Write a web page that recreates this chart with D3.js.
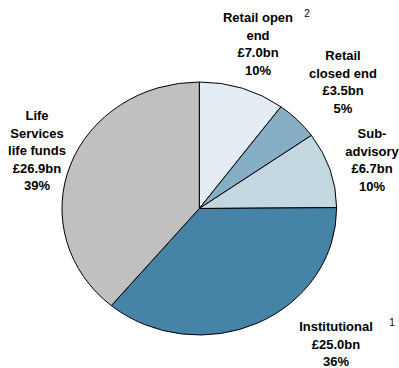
<!DOCTYPE html>
<html>
<head>
<meta charset="utf-8">
<script src="https://cdn.jsdelivr.net/npm/d3@7"></script>
<style>
  body { margin: 0; background: #fff; }
  text { font-family: "Liberation Sans", Arial, sans-serif; }
</style>
</head>
<body>
<div id="chart"></div>
<script>
// chart data
var categories = ["Retail open end", "Retail closed end", "Sub-advisory", "Institutional", "Life Services life funds"];
var values = [7.0, 3.5, 6.7, 25.0, 26.9];   // £bn
var percents = [10, 5, 10, 36, 39];
var labelLines = [
  ["Retail open", "end"],
  ["Retail", "closed end"],
  ["Sub-", "advisory"],
  ["Institutional"],
  ["Life", "Services", "life funds"]
];
var footnotes = ["2", "", "", "1", ""];

var colors = ["#e4edf4", "#86aec4", "#c3d7e1", "#4584a7", "#c0c0c0"];

var width = 399, height = 368;
var cx = 199.3, cy = 208.5, rx = 137.3, ry = 126.5;

var svg = d3.select("#chart")
  .append("svg")
    .attr("width", width)
    .attr("height", height);

var pie = d3.pie().sort(null).value(function(d) { return d; });
var arc = d3.arc().innerRadius(0).outerRadius(rx);

// pie is slightly squashed vertically in the original
var g = svg.append("g")
  .attr("transform", "translate(" + cx + "," + cy + ") scale(1," + (ry / rx) + ")");

g.selectAll("path")
  .data(pie(values))
  .enter()
  .append("path")
    .attr("d", arc)
    .style("fill", function(d, i) { return colors[i]; })
    .style("stroke", "#000")
    .style("stroke-width", 1)
    .attr("vector-effect", "non-scaling-stroke");

// label anchor (centre x, first line y) for each slice
var labelPos = [[258, 22], [343, 60], [372, 138], [336, 331], [37, 120]];
var lineH = 17.5;

labelPos.forEach(function(p, i) {
  var lines = labelLines[i].concat(["£" + values[i].toFixed(1) + "bn", percents[i] + "%"]);
  var t = svg.append("text")
    .attr("text-anchor", "middle")
    .style("font-size", "13px")
    .style("font-weight", "bold")
    .style("fill", "#000");
  lines.forEach(function(l, j) {
    t.append("tspan").attr("x", p[0]).attr("y", p[1] + j * lineH).text(l);
  });
});

// footnote markers
svg.append("text").attr("x", 307).attr("y", 17).text(footnotes[0])
  .style("font-size", "10px").attr("text-anchor", "middle");
svg.append("text").attr("x", 392).attr("y", 326).text(footnotes[3])
  .style("font-size", "10px").attr("text-anchor", "middle");
</script>
</body>
</html>
